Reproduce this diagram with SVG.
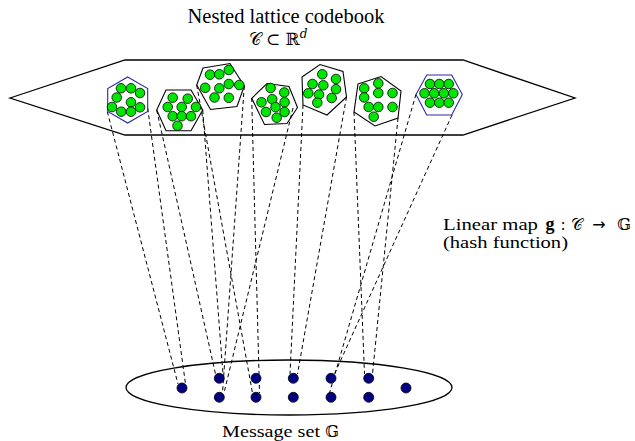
<svg xmlns="http://www.w3.org/2000/svg" width="635" height="441" viewBox="0 0 635 441">
  <style>
    .frame { fill: none; stroke: #000; stroke-width: 1.3; }
    .cell { fill: none; stroke: #000; stroke-width: 1.1; }
    .cell.blue { stroke: #2b2ba8; }
    .pt { fill: #00e600; stroke: #000; stroke-width: 0.8; }
    .msg { fill: #000080; stroke: #000; stroke-width: 0.8; }
    .map { fill: none; stroke: #000; stroke-width: 1; stroke-dasharray: 4 3; }
    .serif { font-family: "Liberation Serif", "DejaVu Serif", "DejaVu Sans", serif; fill: #000; }
    .math { font-family: "DejaVu Serif", "DejaVu Sans", "Liberation Serif", serif; fill: #000; }
    .sym { font-family: "DejaVu Sans", "DejaVu Serif", sans-serif; fill: #000; }
  </style>

  <!-- codebook region and message-set ellipse -->
  <g id="codebook">
    <polygon class="frame" points="10,98 125,60 463,60 575,98 463,135 125,135"/>
  </g>
  <g id="message-set">
    <ellipse class="frame" cx="289" cy="387.5" rx="163" ry="27.5"/>
  </g>

  <!-- dashed mapping lines from coset vertices to messages -->
  <g id="connectors">
    <line class="map" x1="107.3" y1="111.7" x2="178" y2="384"/>
    <line class="map" x1="147.7" y1="108.3" x2="185.5" y2="384"/>
    <line class="map" x1="156.7" y1="110" x2="215.5" y2="374"/>
    <line class="map" x1="202.7" y1="110" x2="223" y2="374"/>
    <line class="map" x1="196.7" y1="85" x2="252.5" y2="393"/>
    <line class="map" x1="244.3" y1="86" x2="222.5" y2="393"/>
    <line class="map" x1="251.7" y1="98" x2="259.5" y2="393"/>
    <line class="map" x1="293" y1="108" x2="224" y2="393"/>
    <line class="map" x1="303" y1="105" x2="290" y2="374"/>
    <line class="map" x1="346.5" y1="97" x2="297.5" y2="374"/>
    <line class="map" x1="354" y1="112" x2="364.5" y2="374"/>
    <line class="map" x1="398" y1="118" x2="372.5" y2="374"/>
    <line class="map" x1="416" y1="94.3" x2="329.5" y2="393"/>
    <line class="map" x1="452" y1="115" x2="334.5" y2="374"/>
  </g>

  <!-- cosets of the nested lattice -->
  <g id="coset1">
    <polygon class="cell blue" points="127.7,77 147.7,88.5 147.7,111.5 127.7,123 107.7,111.5 107.7,88.5"/>
    <circle class="pt" cx="121" cy="88.3" r="4.8"/>
    <circle class="pt" cx="131" cy="88.3" r="4.8"/>
    <circle class="pt" cx="140" cy="93" r="4.8"/>
    <circle class="pt" cx="116.7" cy="97.5" r="4.8"/>
    <circle class="pt" cx="131" cy="102.3" r="4.8"/>
    <circle class="pt" cx="140" cy="107.3" r="4.8"/>
    <circle class="pt" cx="112" cy="107" r="4.8"/>
    <circle class="pt" cx="121.2" cy="111.7" r="4.8"/>
    <circle class="pt" cx="131" cy="111.7" r="4.8"/>
  </g>
  <g id="coset2">
    <polygon class="cell" points="166,90 191,90 202.7,110 191,130.7 166,130.7 156.7,110"/>
    <circle class="pt" cx="172.7" cy="97.7" r="4.8"/>
    <circle class="pt" cx="187.7" cy="98.7" r="4.8"/>
    <circle class="pt" cx="167.7" cy="107" r="4.8"/>
    <circle class="pt" cx="181.7" cy="107" r="4.8"/>
    <circle class="pt" cx="196" cy="107" r="4.8"/>
    <circle class="pt" cx="172.7" cy="116.2" r="4.8"/>
    <circle class="pt" cx="181.7" cy="116.2" r="4.8"/>
    <circle class="pt" cx="191" cy="116.2" r="4.8"/>
    <circle class="pt" cx="177.5" cy="125.7" r="4.8"/>
  </g>
  <g id="coset3">
    <polygon class="cell" points="203,68 230,63.5 244.3,86 237,106.5 210.5,109.5 196.7,85"/>
    <circle class="pt" cx="210" cy="74.7" r="4.8"/>
    <circle class="pt" cx="219.3" cy="74.3" r="4.8"/>
    <circle class="pt" cx="228.8" cy="70" r="4.8"/>
    <circle class="pt" cx="205.2" cy="87.8" r="4.8"/>
    <circle class="pt" cx="219.3" cy="88.3" r="4.8"/>
    <circle class="pt" cx="228.8" cy="84" r="4.8"/>
    <circle class="pt" cx="239.3" cy="85" r="4.8"/>
    <circle class="pt" cx="214.5" cy="97.5" r="4.8"/>
    <circle class="pt" cx="228.8" cy="97.8" r="4.8"/>
  </g>
  <g id="coset4">
    <polygon class="cell" points="251.7,98.3 267,83.5 289,86.5 297.5,107.5 287,123.5 264.5,124.5"/>
    <circle class="pt" cx="270.6" cy="88" r="4.8"/>
    <circle class="pt" cx="284.3" cy="92.5" r="4.8"/>
    <circle class="pt" cx="261.5" cy="102.3" r="4.8"/>
    <circle class="pt" cx="272.2" cy="99.2" r="4.8"/>
    <circle class="pt" cx="284.6" cy="102.3" r="4.8"/>
    <circle class="pt" cx="275.5" cy="107.2" r="4.8"/>
    <circle class="pt" cx="266" cy="112" r="4.8"/>
    <circle class="pt" cx="284.6" cy="112" r="4.8"/>
    <circle class="pt" cx="276.7" cy="117.7" r="4.8"/>
  </g>
  <g id="coset5">
    <polygon class="cell" points="302,77 320,64.5 343,71.5 346.5,97 327,115 303,105"/>
    <circle class="pt" cx="322.3" cy="74.3" r="4.8"/>
    <circle class="pt" cx="312.5" cy="84" r="4.8"/>
    <circle class="pt" cx="336" cy="79" r="4.8"/>
    <circle class="pt" cx="323.3" cy="85.3" r="4.8"/>
    <circle class="pt" cx="336" cy="89.2" r="4.8"/>
    <circle class="pt" cx="308.3" cy="93.3" r="4.8"/>
    <circle class="pt" cx="319" cy="94.6" r="4.8"/>
    <circle class="pt" cx="331.7" cy="98" r="4.8"/>
    <circle class="pt" cx="317.3" cy="102.7" r="4.8"/>
  </g>
  <g id="coset6">
    <polygon class="cell" points="358,84 381,76.5 401,91 398,118 375,126 354,112"/>
    <circle class="pt" cx="364.2" cy="88.3" r="4.8"/>
    <circle class="pt" cx="378.3" cy="83.3" r="4.8"/>
    <circle class="pt" cx="364.2" cy="97.5" r="4.8"/>
    <circle class="pt" cx="378.3" cy="93" r="4.8"/>
    <circle class="pt" cx="392.5" cy="93" r="4.8"/>
    <circle class="pt" cx="368.7" cy="107" r="4.8"/>
    <circle class="pt" cx="378.3" cy="107" r="4.8"/>
    <circle class="pt" cx="392.5" cy="107" r="4.8"/>
    <circle class="pt" cx="373.7" cy="116.7" r="4.8"/>
  </g>
  <g id="coset7">
    <polygon class="cell blue" points="426.7,75 451.7,75 462.3,94.5 451.7,115 426.7,115 416,94.5"/>
    <circle class="pt" cx="430" cy="84" r="4.8"/>
    <circle class="pt" cx="439.3" cy="84" r="4.8"/>
    <circle class="pt" cx="448.7" cy="84" r="4.8"/>
    <circle class="pt" cx="424.5" cy="93.3" r="4.8"/>
    <circle class="pt" cx="434.2" cy="93.3" r="4.8"/>
    <circle class="pt" cx="443.8" cy="93.3" r="4.8"/>
    <circle class="pt" cx="453.3" cy="93.3" r="4.8"/>
    <circle class="pt" cx="430" cy="102.7" r="4.8"/>
    <circle class="pt" cx="439.3" cy="102.7" r="4.8"/>
    <circle class="pt" cx="448.7" cy="102.7" r="4.8"/>
  </g>

  <!-- messages -->
  <g id="messages">
    <circle class="msg" cx="182" cy="388" r="5"/>
    <circle class="msg" cx="219.3" cy="378.3" r="5"/>
    <circle class="msg" cx="219.3" cy="397.3" r="5"/>
    <circle class="msg" cx="256" cy="378.3" r="5"/>
    <circle class="msg" cx="256" cy="397.3" r="5"/>
    <circle class="msg" cx="293.3" cy="378.3" r="5"/>
    <circle class="msg" cx="293.3" cy="397.3" r="5"/>
    <circle class="msg" cx="331" cy="378.3" r="5"/>
    <circle class="msg" cx="331" cy="397.3" r="5"/>
    <circle class="msg" cx="368.7" cy="378.3" r="5"/>
    <circle class="msg" cx="368.7" cy="397.3" r="5"/>
    <circle class="msg" cx="406" cy="388" r="5"/>
  </g>

  <!-- labels -->
  <g id="labels">
    <text class="serif" x="286" y="23" font-size="20.5" text-anchor="middle">Nested lattice codebook</text>
    <text class="math" x="278" y="45" font-size="17" text-anchor="middle">𝒞 ⊂ ℝ<tspan font-size="12" dy="-7" font-style="italic">d</tspan></text>

    <text class="serif" x="443" y="230" font-size="17" textLength="95" lengthAdjust="spacingAndGlyphs">Linear map</text>
    <text class="serif" x="550" y="230" font-size="18" font-weight="bold" text-anchor="middle">g</text>
    <text class="serif" x="563" y="230" font-size="17" text-anchor="middle">:</text>
    <text class="math" x="577" y="230" font-size="16" text-anchor="middle">𝒞</text>
    <text class="sym" x="599" y="230" font-size="16" text-anchor="middle">→</text>
    <text class="math" x="624" y="230" font-size="16" text-anchor="middle">𝔾</text>
    <text class="serif" x="443" y="248" font-size="17" textLength="125" lengthAdjust="spacingAndGlyphs">(hash function)</text>

    <text class="serif" x="222" y="437" font-size="17" textLength="98" lengthAdjust="spacingAndGlyphs">Message set</text>
    <text class="math" x="332" y="437" font-size="16" text-anchor="middle">𝔾</text>
  </g>
</svg>
